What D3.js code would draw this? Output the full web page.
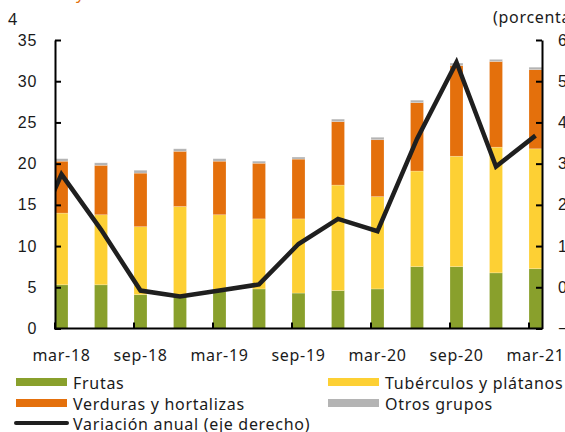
<!DOCTYPE html>
<html>
<head>
<meta charset="utf-8">
<script src="https://cdn.jsdelivr.net/npm/d3@7"></script>
<style>
  body { margin: 0; background: #fff; }
  svg { display: block; font-family: "Noto Sans", sans-serif; letter-spacing: 0.7px; }
  .axis text { font-size: 16px; fill: #1a1a1a; }
  .axis path, .axis line { stroke: #000; stroke-width: 2; }
</style>
</head>
<body>
<div class="root"></div>
<script>
// Data
const categories = ["mar-18", "jun-18", "sep-18", "dic-18", "mar-19", "jun-19", "sep-19",
                    "dic-19", "mar-20", "jun-20", "sep-20", "dic-20", "mar-21"];
const frutas     = [5.3, 5.3, 4.1, 3.9, 4.5, 4.8, 4.3, 4.6, 4.8, 7.5, 7.5, 6.75, 7.25];
const tuberculos = [8.7, 8.5, 8.25, 10.9, 9.3, 8.5, 9.0, 12.8, 11.2, 11.6, 13.4, 15.25, 14.55];
const verduras   = [6.3, 6.0, 6.5, 6.7, 6.5, 6.75, 7.25, 7.7, 6.9, 8.3, 11.0, 10.4, 9.6];
const otros      = [0.3, 0.3, 0.35, 0.3, 0.3, 0.25, 0.25, 0.3, 0.3, 0.3, 0.3, 0.25, 0.3];
const variacion  = [2.74, 1.4, -0.08, -0.22, -0.08, 0.07, 1.05, 1.66, 1.36, 3.6, 5.46, 2.93, 3.68];
const variacionPrevia = 0.6; // dic-17, outside the plot on the left
const tickLabels = ["mar-18", "sep-18", "mar-19", "sep-19", "mar-20", "sep-20", "mar-21"];
const leftTicks = [0, 5, 10, 15, 20, 25, 30, 35];
const rightTicks = [-1, 0, 1, 2, 3, 4, 5, 6];

const w = 565;
const h = 432;
const plotLeft = 55, plotRight = 542, plotTop = 40, plotBottom = 328.5;

const svg = d3.select(".root")
              .append("svg")
              .attr("width", w)
              .attr("height", h);

const series = [
  { name: "Frutas", values: frutas, color: "#89a02c" },
  { name: "Tubérculos y plátanos", values: tuberculos, color: "#fdd034" },
  { name: "Verduras y hortalizas", values: verduras, color: "#e4700c" },
  { name: "Otros grupos", values: otros, color: "#b4b4b4" }
];

const rows = categories.map((c, i) => {
  const r = { cat: c };
  series.forEach(s => r[s.name] = s.values[i]);
  return r;
});
const stacked = d3.stack().keys(series.map(s => s.name))(rows);

const xScale = d3.scaleBand()
                 .domain(categories)
                 .range([plotLeft, plotRight])
                 .paddingInner(1 - 13 / 39.5)
                 .paddingOuter(0)
                 .align(0);
const bw = xScale.bandwidth();

const yLeft = d3.scaleLinear().domain([0, 35]).range([plotBottom, plotTop]);
const yRight = d3.scaleLinear().domain([-1, 6]).range([plotBottom, plotTop]);

// stacked bars
svg.selectAll("g.layer")
   .data(stacked)
   .enter()
   .append("g")
   .attr("class", "layer")
   .attr("fill", (d, i) => series[i].color)
   .selectAll("rect")
   .data(d => d)
   .enter()
   .append("rect")
   .attr("x", d => xScale(d.data.cat))
   .attr("y", d => yLeft(d[1]))
   .attr("width", bw)
   .attr("height", d => yLeft(d[0]) - yLeft(d[1]))
   .attr("stroke", "rgba(255,255,255,0.35)")
   .attr("stroke-width", 0.6);

// line on right axis, clipped to plot
svg.append("clipPath")
   .attr("id", "plotclip")
   .append("rect")
   .attr("x", plotLeft)
   .attr("y", 0)
   .attr("width", plotRight - plotLeft)
   .attr("height", h);

const linePts = [[xScale(categories[0]) - xScale.step() + bw / 2, variacionPrevia]]
  .concat(categories.map((c, i) => [xScale(c) + bw / 2, variacion[i]]));

svg.append("path")
   .datum(linePts)
   .attr("clip-path", "url(#plotclip)")
   .attr("fill", "none")
   .attr("stroke", "#1f1f1f")
   .attr("stroke-width", 4.5)
   .attr("stroke-linejoin", "miter")
   .attr("d", d3.line().x(d => d[0]).y(d => yRight(d[1])));

// left axis
svg.append("g")
   .attr("class", "axis")
   .attr("transform", "translate(" + plotLeft + ",0)")
   .call(d3.axisLeft(yLeft).tickValues(leftTicks).tickSize(-6).tickSizeOuter(0).tickPadding(18));

// right axis
svg.append("g")
   .attr("class", "axis")
   .attr("transform", "translate(" + plotRight + ",0)")
   .call(d3.axisRight(yRight).tickValues(rightTicks).tickSize(-6).tickSizeOuter(0).tickPadding(16));

// x axis
const xg = svg.append("g").attr("class", "axis");
xg.append("line")
  .attr("x1", plotLeft - 1).attr("x2", plotRight + 1)
  .attr("y1", plotBottom).attr("y2", plotBottom);
xg.selectAll("line.tick")
  .data(tickLabels)
  .enter()
  .append("line")
  .attr("class", "tick")
  .attr("x1", d => xScale(d)).attr("x2", d => xScale(d))
  .attr("y1", plotBottom).attr("y2", plotBottom - 6);
xg.selectAll("text")
  .data(tickLabels)
  .enter()
  .append("text")
  .attr("x", d => xScale(d) + bw / 2)
  .attr("y", 361)
  .attr("text-anchor", "middle")
  .text(d => d);

// header texts (cut by the frame)
svg.append("text")
   .attr("x", 8).attr("y", 25)
   .style("font-size", "16px").style("fill", "#1a1a1a")
   .text("4");
svg.append("text")
   .attr("x", 76).attr("y", -1)
   .style("font-size", "16px").style("fill", "#e4700c")
   .text("y");
svg.append("text")
   .attr("x", 493).attr("y", 23)
   .style("font-size", "16px").style("fill", "#1a1a1a")
   .text("(porcentaje)");

// legend
const legend = [
  { name: "Frutas", color: "#89a02c", x: 16, y: 389 },
  { name: "Tubérculos y plátanos", color: "#fdd034", x: 328, y: 389 },
  { name: "Verduras y hortalizas", color: "#e4700c", x: 16, y: 410 },
  { name: "Otros grupos", color: "#b4b4b4", x: 328, y: 410 }
];
const lg = svg.append("g").style("font-size", "16px").style("fill", "#1a1a1a");
legend.forEach(d => {
  lg.append("rect")
    .attr("x", d.x).attr("y", d.y - 11)
    .attr("width", 51).attr("height", 8)
    .attr("fill", d.color);
  lg.append("text")
    .attr("x", d.x + 57).attr("y", d.y)
    .text(d.name);
});
lg.append("line")
  .attr("x1", 16).attr("x2", 67)
  .attr("y1", 423).attr("y2", 423)
  .attr("stroke", "#1f1f1f")
  .attr("stroke-width", 4)
  .attr("stroke-linecap", "round");
lg.append("text")
  .attr("x", 73).attr("y", 430)
  .text("Variación anual (eje derecho)");
</script>
</body>
</html>
